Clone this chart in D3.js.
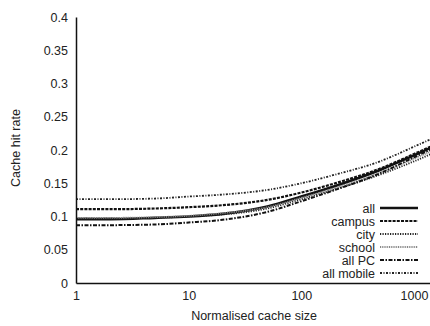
<!DOCTYPE html>
<html><head><meta charset="utf-8">
<script src="https://cdn.jsdelivr.net/npm/d3@7"></script>
<style>body{margin:0;background:#fff}svg{display:block}text{font-family:"Liberation Sans",Arial,sans-serif;fill:#222}</style>
</head><body><svg id="c" width="430" height="326"></svg>
<script>
const cacheSizes = [1, 2, 5, 10, 20, 50, 100, 200, 500, 1000, 2000];
const seriesNames = ["all", "campus", "city", "school", "all PC", "all mobile"];
const allVals      = [0.096,0.096,0.098,0.100,0.104,0.115,0.130,0.146,0.170,0.192,0.215];
const campusVals   = [0.111,0.111,0.112,0.114,0.117,0.125,0.136,0.150,0.172,0.194,0.217];
const cityVals     = [0.097,0.097,0.098,0.100,0.103,0.112,0.126,0.141,0.163,0.183,0.205];
const schoolVals   = [0.098,0.098,0.099,0.101,0.105,0.114,0.128,0.143,0.166,0.187,0.209];
const allPCVals    = [0.087,0.087,0.088,0.091,0.095,0.107,0.123,0.140,0.165,0.189,0.213];
const allMobileVals= [0.126,0.126,0.127,0.130,0.133,0.140,0.150,0.163,0.183,0.205,0.228];
const xTicks = [1, 10, 100, 1000];
const yTicks = [0, 0.05, 0.1, 0.15, 0.2, 0.25, 0.3, 0.35, 0.4];

const values = [allVals, campusVals, cityVals, schoolVals, allPCVals, allMobileVals];
const styles = [
  {w:2.6, dash:null, c:"#111"},
  {w:2.2, dash:"3,1.2", c:"#111"},
  {w:1.8, dash:"1.2,1.3", c:"#222"},
  {w:1.8, dash:"1,0.8", c:"#888"},
  {w:2.0, dash:"4,1.5,1.5,1.5", c:"#111"},
  {w:1.8, dash:"2,1.5,1,1.5", c:"#222"}
];

const svg = d3.select("#c");
const x = d3.scaleLog().domain([1, 1000]).range([76, 414]);
const y = d3.scaleLinear().domain([0, 0.4]).range([283, 17]);

const xa = x.copy().domain([1, x.invert(430)]).range([76, 430]);

const line = d3.line().x(d => x(d[0])).y(d => y(d[1])).curve(d3.curveMonotoneX);

values.forEach((vals, i) => {
  const s = styles[i];
  svg.append("path")
    .datum(cacheSizes.map((c, j) => [c, vals[j]]))
    .attr("d", line).attr("fill", "none")
    .attr("stroke", s.c).attr("stroke-width", s.w)
    .attr("stroke-dasharray", s.dash);
});

const gx = svg.append("g").attr("transform", "translate(0,283)")
  .call(d3.axisBottom(xa).tickValues(xTicks).tickSize(0).tickPadding(8).tickFormat(d => String(d)));
gx.select(".domain").attr("stroke", "#111").attr("stroke-width", 1.5);
gx.selectAll("text").attr("font-size", 12.5).style("font-family", '"Liberation Sans",Arial,sans-serif').attr("fill", "#222");

const gy = svg.append("g").attr("transform", "translate(76,0)")
  .call(d3.axisLeft(y).tickValues(yTicks).tickSize(0).tickPadding(8).tickFormat(d => String(+d.toFixed(2))));
gy.select(".domain").attr("stroke", "#111").attr("stroke-width", 1.5);
gy.selectAll("text").attr("font-size", 12.5).style("font-family", '"Liberation Sans",Arial,sans-serif').attr("fill", "#222");

svg.append("text").attr("x", 254).attr("y", 320).attr("text-anchor", "middle")
  .attr("font-size", 12.5).text("Normalised cache size");
svg.append("text").attr("transform", "translate(20,148) rotate(-90)").attr("text-anchor", "middle")
  .attr("font-size", 12.5).text("Cache hit rate");

const leg = svg.append("g");
seriesNames.forEach((n, i) => {
  const yy = 208 + i * 13;
  const s = styles[i];
  leg.append("text").attr("x", 375).attr("y", yy + 4.5).attr("text-anchor", "end")
    .attr("font-size", 12.5).text(n);
  leg.append("line").attr("x1", 380).attr("x2", 418).attr("y1", yy).attr("y2", yy)
    .attr("stroke", s.c).attr("stroke-width", s.w).attr("stroke-dasharray", s.dash);
});
</script></body></html>
